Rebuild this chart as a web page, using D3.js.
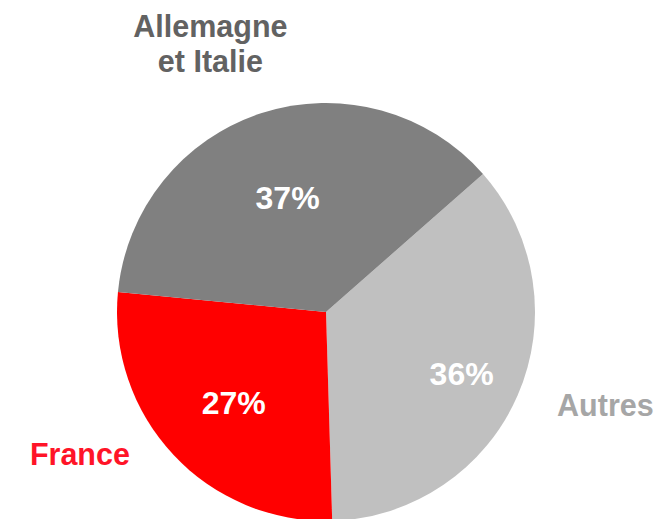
<!DOCTYPE html>
<html>
<head>
<meta charset="utf-8">
<script src="https://cdn.jsdelivr.net/npm/d3@7"></script>
<style>
  html, body { margin: 0; padding: 0; background: #fff; }
  svg { display: block; font-family: "Liberation Sans", Arial, sans-serif; font-weight: bold; }
</style>
</head>
<body>
<div class="svg-wrapper"></div>
<script>
// data
categories = ["Autres", "France", "Allemagne et Italie"];
shares     = [36, 27, 37];
pctLabels  = ["36%", "27%", "37%"];

var width = 671, height = 519,
    cx = 326, cy = 312, radius = 209;

var colors    = ["#c0c0c0", "#ff0000", "#808080"];
var textCols  = ["#a6a6a6", "#ff1428", "#626262"];
// nudges relative to arc centroids (label placement like the original)
var pctNudge  = [[21, 12], [-1, 5], [0, 5]];
var catNudge  = [[18, -20], [-38, -52], [-28, 3]];

var svg = d3.select(".svg-wrapper").append("svg")
  .attr("width", width)
  .attr("height", height);

var g = svg.append("g")
  .attr("transform", "translate(" + cx + "," + cy + ")");

var start = 48.7 * Math.PI / 180;
var pie = d3.pie()
  .sort(null)
  .value(function(d) { return d.value; })
  .startAngle(start)
  .endAngle(start + 2 * Math.PI);

var arcs = pie(categories.map(function(c, i) {
  return { name: c, value: shares[i], pct: pctLabels[i] };
}));

var arc = d3.arc().innerRadius(0).outerRadius(radius);
var pctArc = d3.arc().innerRadius(125).outerRadius(125);
var catArc = d3.arc().innerRadius(285).outerRadius(285);

g.selectAll(".slice")
  .data(arcs)
  .enter().append("path")
    .attr("class", "slice")
    .attr("d", arc)
    .attr("fill", function(d, i) { return colors[i]; });

g.selectAll(".pct")
  .data(arcs)
  .enter().append("text")
    .attr("class", "pct")
    .attr("transform", function(d, i) {
      var c = pctArc.centroid(d);
      return "translate(" + (c[0] + pctNudge[i][0]) + "," + (c[1] + pctNudge[i][1]) + ")";
    })
    .attr("text-anchor", "middle")
    .attr("dy", "0.35em")
    .attr("fill", "#fff")
    .style("font-size", "32px")
    .text(function(d) { return d.data.pct; });

var cat = g.selectAll(".cat")
  .data(arcs)
  .enter().append("text")
    .attr("class", "cat")
    .attr("transform", function(d, i) {
      var c = catArc.centroid(d);
      return "translate(" + (c[0] + catNudge[i][0]) + "," + (c[1] + catNudge[i][1]) + ")";
    })
    .attr("text-anchor", "middle")
    .attr("fill", function(d, i) { return textCols[i]; })
    .style("font-size", "30.5px");

cat.each(function(d) {
  var t = d3.select(this);
  var lines = d.data.name == "Allemagne et Italie" ? ["Allemagne", "et Italie"] : [d.data.name];
  var lh = 35;
  var y0 = -(lines.length - 1) * lh / 2 + 10.5;
  lines.forEach(function(l, k) {
    t.append("tspan")
      .attr("x", 0)
      .attr("y", y0 + k * lh)
      .text(l);
  });
});
</script>
</body>
</html>
